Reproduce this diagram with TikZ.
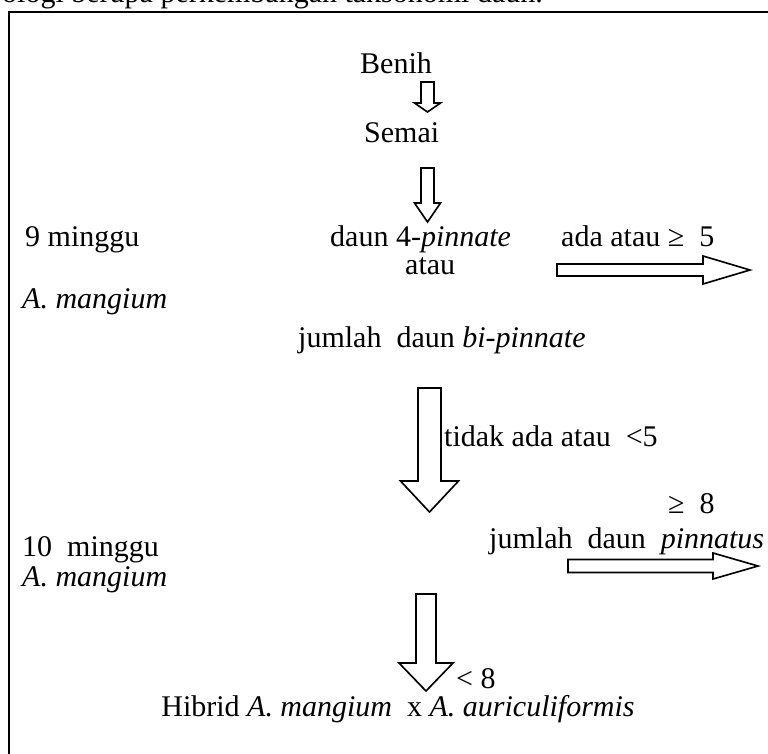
\documentclass[tikz,border=0pt]{standalone}
\usepackage{fontspec}
\setmainfont{Liberation Serif}

\begin{document}
\begin{tikzpicture}[x=0.03cm,y=-0.03cm,font=\fontsize{25.6}{30}\selectfont,line join=miter,
  lbl/.style={inner sep=0pt,anchor=base west},
  blk/.style={draw,line width=1.4pt}]
  \useasboundingbox (0,0) rectangle (768,753);
  \clip (0,0) rectangle (768,753);

  % page text and frame
  \node[lbl] (caption) at (2,2) {ologi berupa perkembangan taksonomi daun.};
  \draw[line width=1.6pt] (9,760) -- (9,12) -- (780,12);

  % main column
  \node[lbl] (benih) at (360,73) {Benih};
  \node[lbl] (semai) at (364,142) {Semai};
  \node[lbl] (pin4) at (330,246) {daun 4-\textit{pinnate}};
  \node[lbl] (atau) at (405,274) {atau};
  \node[lbl] (bipin) at (298,347) {jumlah\ \ daun \textit{bi-pinnate}};
  \node[lbl] (tidak) at (444,446) {tidak ada atau\ \ <5};
  \node[lbl] (kurang) at (456,688) {< 8};
  \node[lbl,anchor=base] (hibrid) at (398,716) {Hibrid \textit{A. mangium}\ \ x \textit{A. auriculiformis}};

  % left column
  \node[lbl] (minggu9) at (25,246) {9 minggu};
  \node[lbl] (mang1) at (22,308) {\textit{A. mangium}};
  \node[lbl] (minggu10) at (22,556) {10\ \ minggu};
  \node[lbl] (mang2) at (22,586) {\textit{A. mangium}};

  % right column
  \node[lbl] (ada) at (561,246) {ada atau ≥\ \ 5};
  \node[lbl] (lebih) at (668,513) {≥\ \ 8};
  \node[lbl] (pinnatus) at (489,548) {jumlah\ \ daun\ \ \textit{pinnatus}};

  % block arrows down: centre x / top / head start / tip / half shaft / half head
  \foreach \cx/\ya/\yb/\yc/\sw/\hw in {427.5/82/103/112/6.5/13, 427.5/168/203/222/6.5/13,
      429.5/388/481/512/11.5/29, 426/594/663/691/10/27}{
    \draw[blk] (\cx-\sw,\ya) -- (\cx+\sw,\ya) -- (\cx+\sw,\yb) -- (\cx+\hw,\yb) -- (\cx,\yc)
      -- (\cx-\hw,\yb) -- (\cx-\sw,\yb) -- cycle;
  }
  % block arrows right: centre y / start / head start / tip / half shaft / half head
  \foreach \cy/\xa/\xb/\xc/\sw/\hw in {270/557/703/750/6/14, 566/568/713/758/6.5/13}{
    \draw[blk] (\xa,\cy-\sw) -- (\xb,\cy-\sw) -- (\xb,\cy-\hw) -- (\xc,\cy) -- (\xb,\cy+\hw)
      -- (\xb,\cy+\sw) -- (\xa,\cy+\sw) -- cycle;
  }
\end{tikzpicture}
\end{document}
